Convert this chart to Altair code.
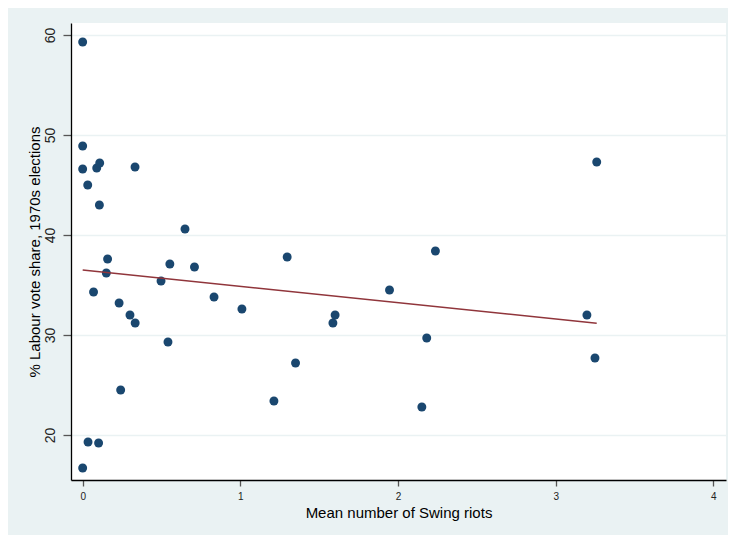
import altair as alt
import pandas as pd

# Mean number of Swing riots (x) and % Labour vote share, 1970s elections (y)
riots = [0.000, 0.000, 0.000, 0.032, 0.089, 0.108, 0.106, 0.332, 0.649, 0.158,
         0.553, 0.709, 0.150, 0.069, 0.497, 0.833, 0.231, 0.300, 0.333, 1.010,
         0.541, 0.241, 0.034, 0.101, 0.000, 1.297, 2.237, 1.946, 1.601, 1.587,
         2.182, 1.350, 1.213, 2.151, 3.260, 3.198, 3.249]
labour = [59.3, 48.9, 46.6, 45.0, 46.7, 47.2, 43.0, 46.8, 40.6, 37.6,
          37.1, 36.8, 36.2, 34.3, 35.4, 33.8, 33.2, 32.0, 31.2, 32.6,
          29.3, 24.5, 19.3, 19.2, 16.7, 37.8, 38.4, 34.5, 32.0, 31.2,
          29.7, 27.2, 23.4, 22.8, 47.3, 32.0, 27.7]
x_ticks = [0, 1, 2, 3, 4]
y_ticks = [20, 30, 40, 50, 60]

df = pd.DataFrame({"riots": riots, "labour": labour})

FONT = "Liberation Sans"
W, H = 655, 457

xscale = alt.Scale(domain=[-0.074, 4.08], nice=False, zero=False)
yscale = alt.Scale(domain=[15.5, 61.2], nice=False, zero=False)

xaxis = alt.Axis(
    values=x_ticks, title="Mean number of Swing riots", grid=False,
    tickSize=6, tickWidth=1.3, tickColor="#555555",
    domainColor="#000000", domainWidth=1.3,
    labelFontSize=10, labelFont=FONT, labelColor="#222222",
    labelBaseline="middle", labelPadding=10,
    titleFont=FONT, titleFontSize=15, titleFontWeight="normal",
    titleColor="#000000", titleBaseline="middle", titleY=32,
)
yaxis = alt.Axis(
    values=y_ticks, title="% Labour vote share, 1970s elections", grid=True,
    gridColor="#eaf2f3", gridWidth=1.3,
    tickSize=8, tickWidth=1.3, tickColor="#555555",
    domainColor="#000000", domainWidth=1.3,
    labelFontSize=14, labelFont=FONT, labelColor="#222222",
    labelAngle=270, labelAlign="center", labelBaseline="middle", labelPadding=13,
    titleFont=FONT, titleFontSize=15, titleFontWeight="normal",
    titleColor="#000000", titleAngle=270, titleAlign="center",
    titleBaseline="middle", titleX=-37, titleY=H / 2,
)

base = alt.Chart(df).encode(
    x=alt.X("riots:Q", scale=xscale, axis=xaxis),
    y=alt.Y("labour:Q", scale=yscale, axis=yaxis),
)

points = base.mark_circle(size=80, color="#1a476f", opacity=1)
fit = base.transform_regression("riots", "labour").mark_line(
    color="#90353b", strokeWidth=1.5
)

chart = (
    alt.layer(points, fit)
    .properties(
        width=W, height=H,
        autosize=alt.AutoSizeParams(type="none"),
        padding={"left": 63, "top": 15, "right": 2, "bottom": 55},
        background="#eaf2f3",
    )
    .configure_view(fill="white", strokeWidth=0)
)

chart.save("out.html", embed_options={"renderer": "svg", "actions": False})
